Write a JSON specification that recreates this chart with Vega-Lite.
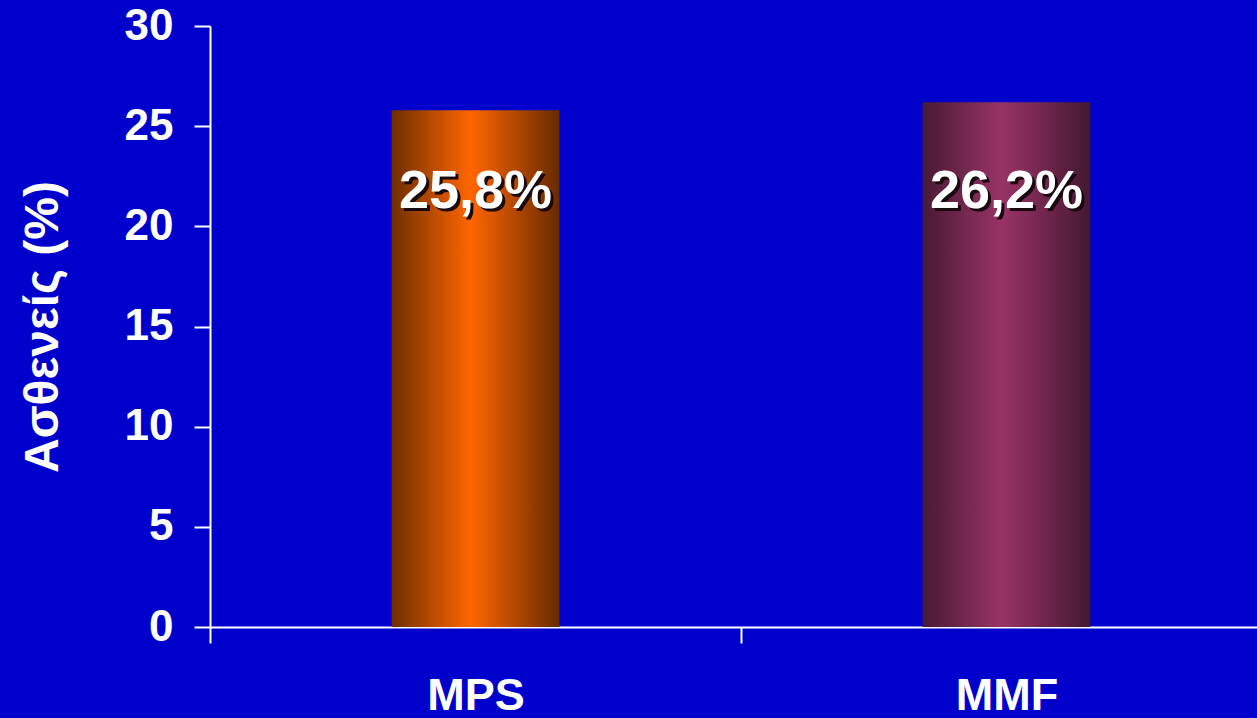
{
  "$schema": "https://vega.github.io/schema/vega-lite/v6.json",
  "width": 1062,
  "height": 601,
  "autosize": {"type": "none"},
  "padding": {"left": 210, "top": 26, "right": 0, "bottom": 91},
  "background": "#0000CC",
  "config": {
    "view": {"stroke": null},
    "font": "Liberation Sans"
  },
  "data": {
    "values": [
      {"group": "MPS", "value": 25.8, "label": "25,8%"},
      {"group": "MMF", "value": 26.2, "label": "26,2%"}
    ]
  },
  "encoding": {
    "x": {
      "field": "group",
      "type": "nominal",
      "sort": ["MPS", "MMF"],
      "scale": {"paddingInner": 0, "paddingOuter": 0},
      "axis": {
        "title": null,
        "labelAngle": 0,
        "labelColor": "white",
        "labelFont": "Liberation Sans",
        "labelFontWeight": "bold",
        "labelFontSize": 45,
        "labelPadding": 30,
        "domainColor": "white",
        "domainWidth": 2,
        "tickColor": "white",
        "tickWidth": 2,
        "tickSize": 16,
        "tickBand": "extent"
      }
    }
  },
  "layer": [
    {
      "transform": [{"filter": "datum.group === 'MPS'"}],
      "mark": {
        "type": "bar",
        "width": {"band": 0.316},
        "color": {
          "gradient": "linear",
          "x1": 0, "x2": 1, "y1": 0, "y2": 0,
          "stops": [
            {"offset": 0, "color": "#6E2E00"},
            {"offset": 0.47, "color": "#FF6600"},
            {"offset": 1, "color": "#682A00"}
          ]
        }
      },
      "encoding": {
        "y": {
          "field": "value",
          "type": "quantitative",
          "scale": {"domain": [0, 30]},
          "axis": {
            "title": "Ασθενείς (%)",
            "titleColor": "white",
            "titleFont": "Liberation Sans",
            "titleFontWeight": "bold",
            "titleFontSize": 48,
            "titlePadding": 57,
            "values": [0, 5, 10, 15, 20, 25, 30],
            "grid": false,
            "labelColor": "white",
            "labelFont": "Liberation Sans",
            "labelFontWeight": "bold",
            "labelFontSize": 44,
            "labelPadding": 21,
            "domainColor": "white",
            "domainWidth": 2,
            "tickColor": "white",
            "tickWidth": 2,
            "tickSize": 16
          }
        }
      }
    },
    {
      "transform": [{"filter": "datum.group === 'MMF'"}],
      "mark": {
        "type": "bar",
        "width": {"band": 0.316},
        "color": {
          "gradient": "linear",
          "x1": 0, "x2": 1, "y1": 0, "y2": 0,
          "stops": [
            {"offset": 0, "color": "#481A33"},
            {"offset": 0.47, "color": "#993366"},
            {"offset": 1, "color": "#441830"}
          ]
        }
      },
      "encoding": {
        "y": {"field": "value", "type": "quantitative"}
      }
    },
    {
      "mark": {
        "type": "text",
        "baseline": "alphabetic",
        "align": "center",
        "dx": 3,
        "dy": 3,
        "fontSize": 54,
        "fontWeight": "bold",
        "font": "Liberation Sans",
        "color": "#1A0A10"
      },
      "encoding": {
        "y": {"datum": 20.9, "type": "quantitative"},
        "text": {"field": "label"}
      }
    },
    {
      "mark": {
        "type": "text",
        "baseline": "alphabetic",
        "align": "center",
        "fontSize": 54,
        "fontWeight": "bold",
        "font": "Liberation Sans",
        "color": "white"
      },
      "encoding": {
        "y": {"datum": 20.9, "type": "quantitative"},
        "text": {"field": "label"}
      }
    }
  ]
}
